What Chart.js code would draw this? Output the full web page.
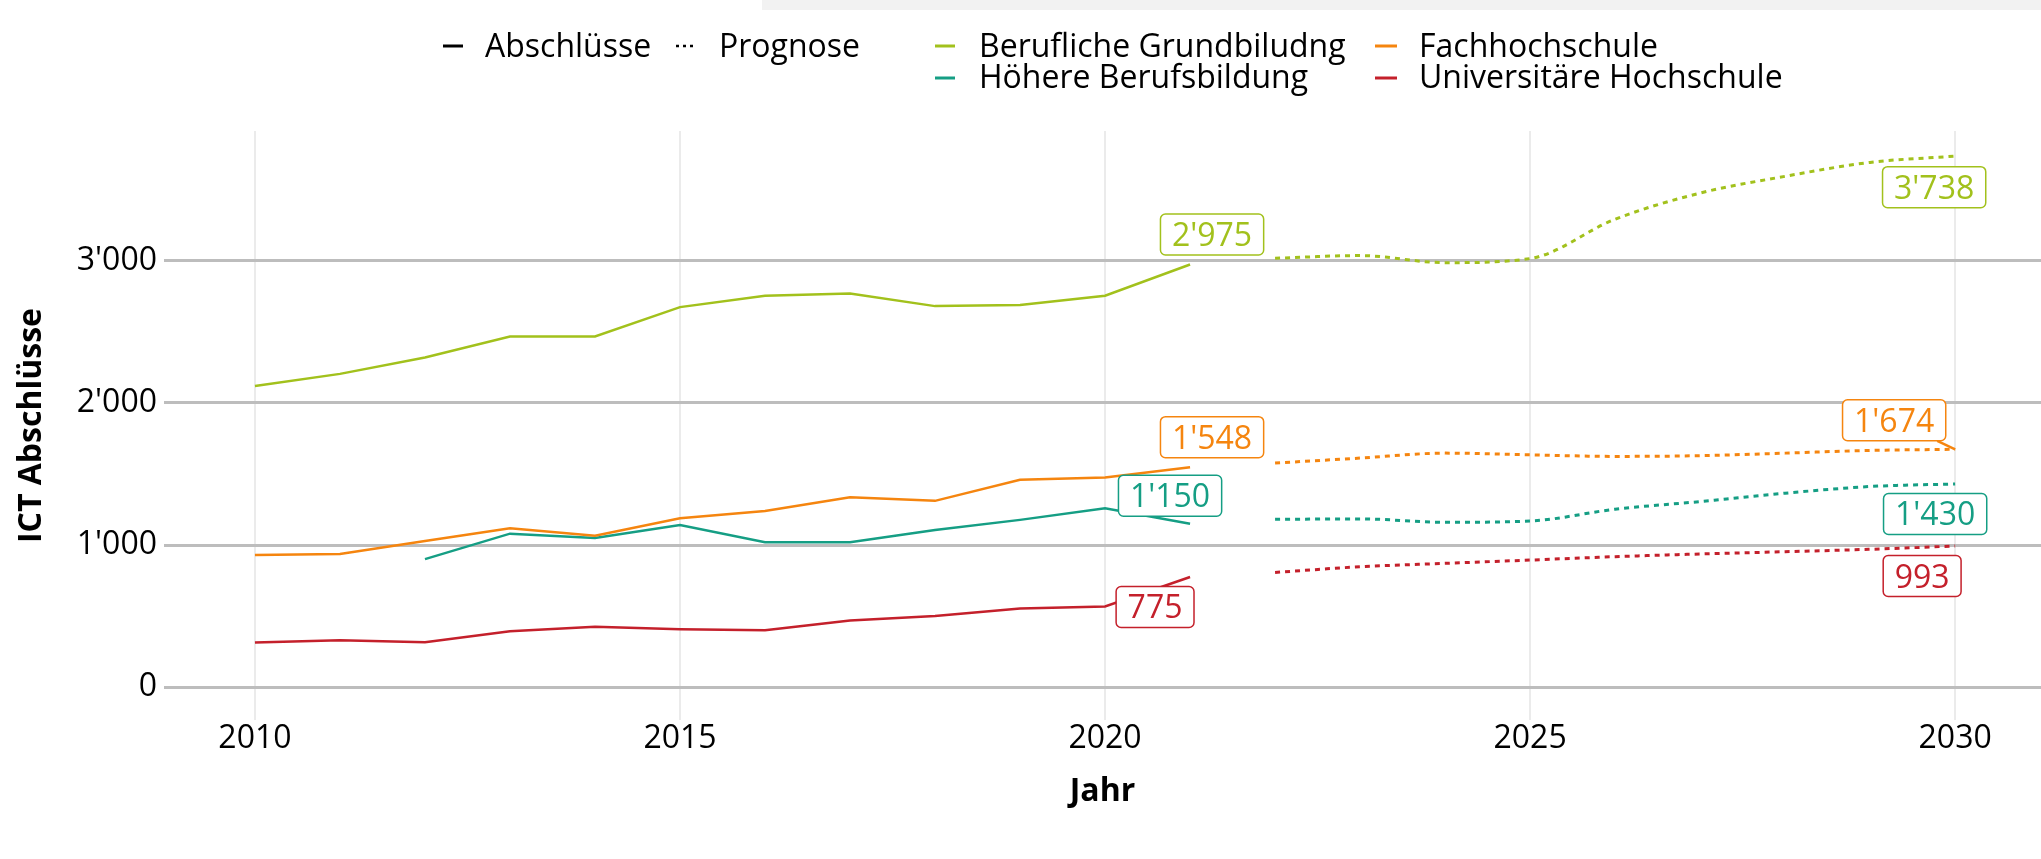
<!DOCTYPE html>
<html>
<head>
<meta charset="utf-8">
<script src="https://cdn.jsdelivr.net/npm/chart.js@4.4.1/dist/chart.umd.min.js"></script>
<style>
  html, body { margin: 0; padding: 0; background: #fff; }
  #wrap { position: relative; width: 2041px; height: 859px; }
  #band { position: absolute; left: 762px; top: 0; width: 1279px; height: 10px; background: #f2f2f2; }
  canvas { position: absolute; left: 0; top: 0; }
</style>
</head>
<body>
<div id="wrap">
  <div id="band"></div>
  <canvas id="chart" width="2041" height="859"></canvas>
</div>
<script>
// Abschlüsse (Ist-Werte)
const years = [2010, 2011, 2012, 2013, 2014, 2015, 2016, 2017, 2018, 2019, 2020, 2021];
const grundbildung = [2120, 2205, 2320, 2468, 2468, 2675, 2755, 2770, 2682, 2690, 2755, 2975];
const fachhochschule = [930, 937, 1028, 1118, 1066, 1188, 1240, 1337, 1311, 1459, 1475, 1548];
const hoehereBB = [null, null, 901, 1080, 1050, 1141, 1019, 1019, 1106, 1177, 1259, 1150];
const uniHochschule = [313, 330, 316, 393, 424, 407, 400, 468, 501, 553, 567, 775];

// Prognose
const forecastYears = [2022, 2023, 2024, 2025, 2026, 2027, 2028, 2029, 2030];
const grundbildungPrognose = [3019, 3038, 2988, 3017, 3294, 3478, 3596, 3694, 3738];
const fachhochschulePrognose = [1577, 1612, 1647, 1635, 1624, 1629, 1647, 1666, 1674];
const hoehereBBPrognose = [1181, 1184, 1160, 1169, 1252, 1306, 1365, 1412, 1430];
const uniHochschulePrognose = [807, 847, 871, 894, 918, 937, 953, 970, 993];

const seriesNames = ['Berufliche Grundbiludng', 'Fachhochschule', 'Höhere Berufsbildung', 'Universitäre Hochschule'];
const seriesColors = ['#a2c11c', '#f5850f', '#159e84', '#c4202b'];

const xTicks = [2010, 2015, 2020, 2025, 2030];
const yTicks = [0, 1000, 2000, 3000];

const fmt = v => String(Math.round(v)).replace(/\B(?=(\d{3})+(?!\d))/g, "'");
const toPoints = (xs, ys) => xs.map((x, i) => ({ x: x, y: ys[i] }));

const actual = [grundbildung, fachhochschule, hoehereBB, uniHochschule];
const forecast = [grundbildungPrognose, fachhochschulePrognose, hoehereBBPrognose, uniHochschulePrognose];

const datasets = [];
actual.forEach((vals, i) => datasets.push({
  label: seriesNames[i],
  data: toPoints(years, vals),
  borderColor: seriesColors[i],
  borderWidth: 2.5,
  pointRadius: 0,
  tension: 0,
  spanGaps: false
}));
forecast.forEach((vals, i) => datasets.push({
  label: seriesNames[i] + ' Prognose',
  data: toPoints(forecastYears, vals),
  borderColor: seriesColors[i],
  borderWidth: 3,
  borderDash: [5, 5],
  pointRadius: 0,
  cubicInterpolationMode: 'monotone'
}));

// label placement relative to the last point of each dataset (pixels)
const labelOffsets = [
  { dx: 22, dy: -30 }, { dx: 22, dy: -30 }, { dx: -20, dy: -28 }, { dx: -35, dy: 30 },
  { dx: -21, dy: 31 }, { dx: -61, dy: -29, leader: true }, { dx: -20, dy: 30 }, { dx: -33, dy: 30 }
];

const FONT = '"Open Sans", "DejaVu Sans", sans-serif';

const endLabels = {
  id: 'endLabels',
  afterDatasetsDraw(chart) {
    const ctx = chart.ctx;
    ctx.save();
    ctx.font = '32px ' + FONT;
    chart.data.datasets.forEach((ds, i) => {
      const meta = chart.getDatasetMeta(i);
      const last = meta.data[meta.data.length - 1];
      const value = ds.data[ds.data.length - 1].y;
      const off = labelOffsets[i];
      const text = fmt(value);
      const tw = ctx.measureText(text).width;
      const w = tw + 23, h = 41;
      const cx = last.x + off.dx, cy = last.y + off.dy;
      const bx = cx - w / 2, by = cy - h / 2;
      if (off.leader) {
        // segment from box edge to the point
        const vx = last.x - cx, vy = last.y - cy;
        const t = Math.min((w / 2) / Math.abs(vx || 1e-6), (h / 2) / Math.abs(vy || 1e-6));
        ctx.beginPath();
        ctx.moveTo(cx + vx * t, cy + vy * t);
        ctx.lineTo(last.x, last.y);
        ctx.strokeStyle = ds.borderColor;
        ctx.lineWidth = 2.5;
        ctx.stroke();
      }
      ctx.beginPath();
      ctx.roundRect(bx, by, w, h, 5);
      ctx.fillStyle = '#ffffff';
      ctx.fill();
      ctx.lineWidth = 1.5;
      ctx.strokeStyle = ds.borderColor;
      ctx.stroke();
      ctx.fillStyle = ds.borderColor;
      ctx.textAlign = 'center';
      ctx.textBaseline = 'alphabetic';
      ctx.fillText(text, cx, cy + 11.5);
    });
    ctx.restore();
  }
};

const topLegend = {
  id: 'topLegend',
  afterDraw(chart) {
    const ctx = chart.ctx;
    ctx.save();
    ctx.font = '32px ' + FONT;
    ctx.textBaseline = 'alphabetic';
    ctx.textAlign = 'left';
    const key = (x1, x2, y, color, dash) => {
      ctx.beginPath();
      ctx.setLineDash(dash || []);
      ctx.moveTo(x1, y);
      ctx.lineTo(x2, y);
      ctx.strokeStyle = color;
      ctx.lineWidth = dash ? 2.5 : 3;
      ctx.stroke();
      ctx.setLineDash([]);
    };
    const txt = (s, x, y) => { ctx.fillStyle = '#000'; ctx.fillText(s, x, y); };
    key(443, 463, 46, '#000');
    txt('Abschlüsse', 485, 57);
    key(676, 696, 46, '#000', [3, 4]);
    txt('Prognose', 719, 57);
    const cols = [[935, 955, 979], [1375, 1397, 1419]];
    const rows = [[46, 57], [78, 88]];
    const order = [[0, 0, 0], [1, 0, 1], [2, 1, 0], [3, 1, 1]];
    order.forEach(([s, r, c]) => {
      key(cols[c][0], cols[c][1], rows[r][0], seriesColors[s]);
      txt(seriesNames[s], cols[c][2], rows[r][1]);
    });
    ctx.restore();
  }
};

new Chart(document.getElementById('chart').getContext('2d'), {
  type: 'line',
  data: { datasets: datasets },
  options: {
    responsive: false,
    animation: false,
    events: [],
    layout: { padding: { top: 131, left: 0, right: 0, bottom: 0 }, autoPadding: false },
    plugins: { legend: { display: false }, tooltip: { enabled: false } },
    scales: {
      x: {
        type: 'linear',
        z: -1,
        min: 2008.93,
        max: 2031.01,
        afterBuildTicks: s => { s.ticks = xTicks.map(v => ({ value: v })); },
        afterFit: s => { s.height = 139; },
        border: { display: false },
        grid: { color: '#ebebeb', lineWidth: 2, drawTicks: false },
        ticks: {
          padding: 0,
          autoSkip: false,
          maxRotation: 0,
          color: '#000',
          font: { family: FONT, size: 32 },
          callback: v => String(v)
        },
        title: {
          display: true,
          text: 'Jahr',
          color: '#000',
          font: { family: FONT, size: 32, weight: 'bold' },
          padding: { top: 0, bottom: 48 }
        }
      },
      y: {
        type: 'linear',
        z: 0,
        min: -232,
        max: 3915,
        afterBuildTicks: s => { s.ticks = yTicks.map(v => ({ value: v })); },
        afterFit: s => { s.width = 164; },
        border: { display: false },
        grid: { color: '#bdbdbd', lineWidth: 3, drawTicks: false },
        ticks: {
          padding: 7,
          color: '#000',
          font: { family: FONT, size: 32 },
          callback: v => fmt(v)
        },
        title: {
          display: true,
          text: 'ICT Abschlüsse',
          color: '#000',
          font: { family: FONT, size: 32, weight: 'bold' },
          padding: { top: 13, bottom: 0 }
        }
      }
    }
  },
  plugins: [endLabels, topLegend]
});
</script>
</body>
</html>
